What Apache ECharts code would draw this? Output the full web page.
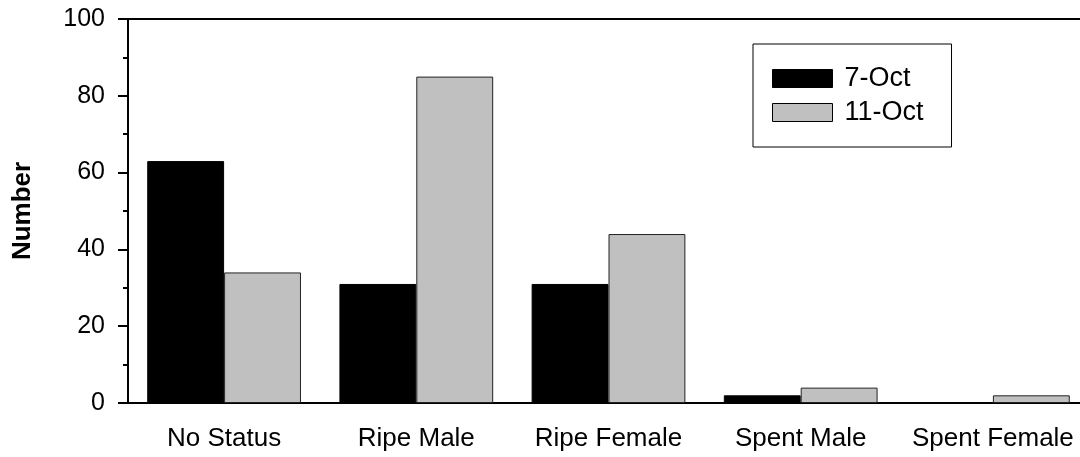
<!DOCTYPE html>
<html><head><meta charset="utf-8">
<script src="https://cdn.jsdelivr.net/npm/echarts@6/dist/echarts.min.js"></script>
<style>html,body{margin:0;padding:0;background:#fff}#c{width:1080px;height:457px}</style>
</head><body><div id="c"></div>
<script>
const categories = ["No Status", "Ripe Male", "Ripe Female", "Spent Male", "Spent Female"];
const oct7 = [63, 31, 31, 2, 0];
const oct11 = [34, 85, 44, 4, 2];
const seriesNames = ["7-Oct", "11-Oct"];
const font = "'Liberation Sans', Arial, sans-serif";
const chart = echarts.init(document.getElementById('c'));
chart.setOption({
  animation: false,
  grid: { left: 128, width: 961, top: 19, height: 384, outerBoundsMode: 'none', containLabel: false,
          show: true, borderColor: '#000', borderWidth: 2, backgroundColor: 'transparent' },
  legend: {
    data: seriesNames, orient: 'vertical', left: 753, top: 44, icon: 'rect',
    itemWidth: 60, itemHeight: 18, itemGap: 7,
    padding: [21, 28, 21, 19], borderColor: '#000', borderWidth: 1,
    textStyle: { fontFamily: font, fontSize: 27, lineHeight: 27, color: '#000', padding: [0, 0, 0, 7] },
    itemStyle: { borderColor: '#000', borderWidth: 1 }
  },
  xAxis: {
    type: 'category', data: categories,
    axisLine: { lineStyle: { color: '#000', width: 2 } },
    axisTick: { alignWithLabel: true, length: 8, lineStyle: { color: '#000', width: 2 } },
    axisLabel: { fontFamily: font, fontSize: 26, color: '#000', margin: 23, interval: 0 }
  },
  yAxis: {
    type: 'value', min: 0, max: 100, interval: 20,
    name: 'Number', nameLocation: 'middle', nameGap: 92, nameRotate: 90,
    nameTextStyle: { fontFamily: font, fontSize: 26, fontWeight: 'bold', color: '#000' },
    axisLine: { show: true, lineStyle: { color: '#000', width: 2 } },
    axisTick: { show: true, inside: false, length: 10, lineStyle: { color: '#000', width: 2 } },
    minorTick: { show: true, splitNumber: 2, length: 5, lineStyle: { color: '#000', width: 2 } },
    splitLine: { show: false },
    axisLabel: { fontFamily: font, fontSize: 25, color: '#000', margin: 23 }
  },
  series: [
    { name: seriesNames[0], type: 'bar', data: oct7, barGap: '0%', barCategoryGap: '20%',
      itemStyle: { color: '#000', borderColor: '#000', borderWidth: 1 } },
    { name: seriesNames[1], type: 'bar', data: oct11, barGap: '0%', barCategoryGap: '20%',
      itemStyle: { color: '#c0c0c0', borderColor: '#222', borderWidth: 1 } }
  ]
});
</script></body></html>
